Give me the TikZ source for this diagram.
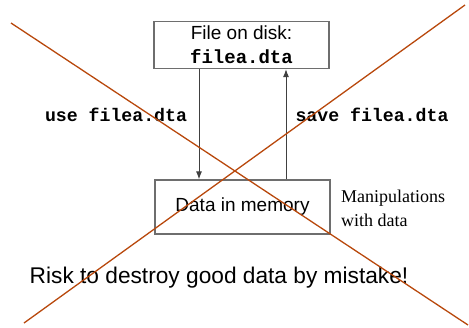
\documentclass[tikz,border=0pt]{standalone}
\usepackage{fontspec}
\setmainfont{Liberation Sans}
\setmonofont{Liberation Mono}
\newfontfamily\timesfont{Liberation Serif}
\usetikzlibrary{arrows.meta}
\definecolor{crossred}{RGB}{184,72,12}
\definecolor{boxgray}{RGB}{110,110,110}
\tikzset{
  filebox/.style={draw=boxgray, line width=1.2pt, minimum width=175pt, inner sep=0pt, align=center},
  flow/.style={draw=black!75, line width=1pt, -{Latex[length=8pt,width=6pt]}},
  cmd/.style={font=\fontsize{18.2}{22}\selectfont\ttfamily\bfseries},
  crossline/.style={draw=crossred, line width=1.3pt}
}
\begin{document}
\begin{tikzpicture}[x=1pt,y=-1pt]
        \useasboundingbox (0,0) rectangle (469,327);

        \node[filebox, minimum height=47pt, font=\fontsize{19}{24}\selectfont] (disk) at (241.5,45)
            {File on disk:\\\texttt{\bfseries filea.dta}};
        \node[filebox, minimum height=54pt, font=\fontsize{19}{24}\selectfont] (mem) at (242.5,207)
            {Data in memory};

        \node[cmd] (use) at (116,115) {use filea.dta};
        \node[cmd] (save) at (372,115) {save filea.dta};

        \node[anchor=north west, inner sep=0pt, align=left,
              font=\fontsize{18}{24}\selectfont\timesfont] (manip) at (341,190)
            {Manipulations\\with data};

        \node[font=\fontsize{22.7}{26}\selectfont] (risk) at (219,278)
            {Risk to destroy good data by mistake!};

        % arrows between the two boxes
        \coordinate (dn) at (199,0);
        \coordinate (up) at (286,0);
        \draw[flow] (disk.south -| dn) -- (mem.north -| dn);
        \draw[flow] (mem.north -| up) -- (disk.south -| up);

        % the cross
        \coordinate (tl) at (11,23);
        \coordinate (br) at (468,325);
        \coordinate (tr) at (465,5);
        \coordinate (bl) at (24,323);
        \draw[crossline] (tl) -- (br);
        \draw[crossline] (tr) -- (bl);
\end{tikzpicture}
\end{document}
